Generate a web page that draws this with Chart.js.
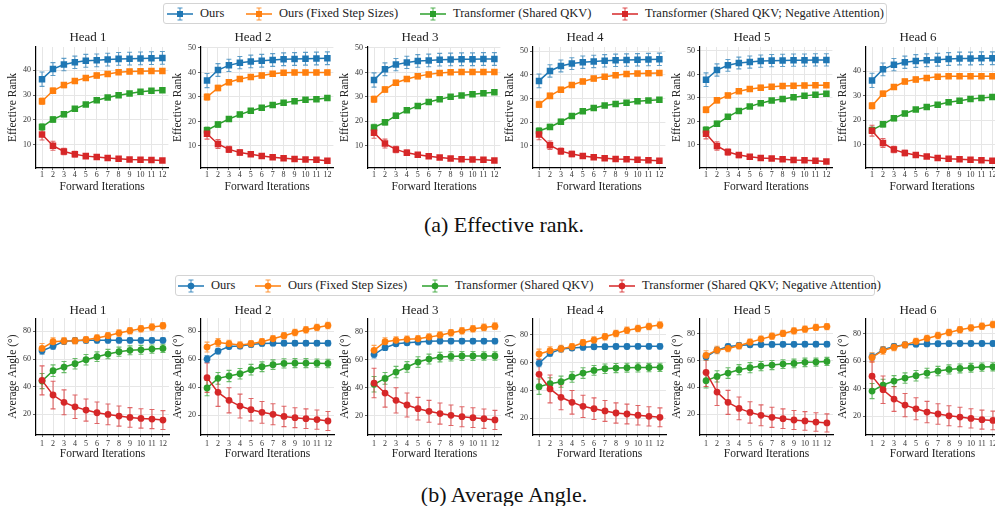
<!DOCTYPE html>
<html>
<head>
<meta charset="utf-8">
<script src="https://cdn.jsdelivr.net/npm/chart.js@4.4.1/dist/chart.umd.min.js"></script>
<style>
  html, body { margin: 0; padding: 0; background: #fff; overflow: hidden; width: 995px; height: 506px; position: relative; font-family: "Liberation Serif", serif; }
  canvas.panel { position: absolute; }
  .legend { position: absolute; border: 1px solid #d4d4d4; border-radius: 3px; box-sizing: border-box; background: #fff; }
  .item { position: absolute; top: 0; height: 100%; display: flex; align-items: center; font-size: 12.5px; color: #222; white-space: nowrap; }
  .item svg { margin-right: 7px; }
  .caption { position: absolute; left: 0; width: 1008px; text-align: center; font-size: 22px; line-height: 22px; color: #111; }
</style>
</head>
<body>
<div class="legend" id="legendTop" style="left:163px;top:3px;width:724px;height:21px"></div>
<div class="legend" id="legendBottom" style="left:175px;top:275px;width:700px;height:21px"></div>
<div class="caption" style="top:214px">(a) Effective rank.</div>
<div class="caption" style="top:484px">(b) Average Angle.</div>

<script>
const iterations = [1, 2, 3, 4, 5, 6, 7, 8, 9, 10, 11, 12];
const headTitles = ["Head 1", "Head 2", "Head 3", "Head 4", "Head 5", "Head 6"];
const seriesNames = ["Ours", "Ours (Fixed Step Sizes)", "Transformer (Shared QKV)", "Transformer (Shared QKV; Negative Attention)"];
const seriesColors = ["#1f77b4", "#ff7f0e", "#2ca02c", "#d62728"];

// effective rank, one list per head
const rankOurs = [
  [36.4, 40.5, 42.3, 43.2, 43.8, 44.0, 44.3, 44.6, 44.7, 44.8, 44.9, 45.0],
  [36.7, 41.0, 42.9, 44.0, 44.5, 44.8, 45.1, 45.4, 45.5, 45.6, 45.7, 45.8],
  [36.9, 41.3, 43.2, 44.1, 44.7, 44.9, 45.2, 45.3, 45.4, 45.4, 45.5, 45.5],
  [37.4, 41.6, 43.7, 44.7, 45.3, 45.6, 45.9, 46.1, 46.2, 46.3, 46.4, 46.5],
  [37.8, 41.9, 43.9, 44.9, 45.3, 45.7, 45.9, 46.0, 46.1, 46.1, 46.2, 46.2],
  [36.3, 40.8, 42.7, 43.7, 44.2, 44.5, 44.7, 45.0, 45.2, 45.2, 45.3, 45.3],
];
const rankFixed = [
  [27.5, 31.7, 34.0, 35.7, 36.9, 37.9, 38.5, 39.2, 39.5, 39.6, 39.7, 39.7],
  [30.0, 33.7, 36.0, 37.3, 38.2, 38.8, 39.5, 39.9, 40.0, 40.0, 40.0, 40.0],
  [29.0, 33.0, 35.8, 37.3, 38.4, 39.2, 39.8, 40.1, 40.2, 40.2, 40.2, 40.2],
  [27.5, 31.1, 33.7, 35.7, 37.2, 38.4, 39.2, 39.8, 40.3, 40.5, 40.6, 40.7],
  [25.0, 29.0, 31.1, 32.9, 33.8, 34.4, 34.8, 35.1, 35.2, 35.3, 35.4, 35.4],
  [26.0, 30.9, 33.6, 35.8, 36.7, 37.3, 37.8, 38.0, 38.0, 38.0, 38.0, 38.0],
];
const rankShared = [
  [17.1, 20.1, 22.2, 24.4, 26.2, 27.9, 29.0, 29.9, 30.6, 31.3, 31.7, 31.9],
  [16.4, 18.8, 21.0, 22.8, 24.4, 25.6, 26.7, 27.6, 28.3, 28.9, 29.1, 29.6],
  [17.5, 19.6, 22.3, 24.5, 26.3, 27.9, 29.0, 30.0, 30.6, 31.1, 31.5, 31.9],
  [16.3, 18.0, 20.2, 22.6, 24.6, 26.0, 27.0, 27.7, 28.2, 28.8, 29.2, 29.5],
  [16.4, 19.0, 22.0, 24.5, 26.4, 27.8, 28.9, 29.6, 30.3, 30.9, 31.4, 31.8],
  [16.0, 18.4, 20.9, 22.8, 24.4, 25.5, 26.4, 27.4, 28.0, 28.7, 29.1, 29.5],
];
const rankNegative = [
  [14.0, 9.5, 7.2, 6.1, 5.3, 4.9, 4.5, 4.2, 3.9, 3.8, 3.7, 3.5],
  [15.0, 10.8, 8.6, 7.3, 6.6, 5.9, 5.4, 5.0, 4.7, 4.5, 4.4, 4.0],
  [15.3, 10.9, 8.5, 7.1, 6.3, 5.7, 5.2, 4.8, 4.5, 4.4, 4.3, 4.0],
  [14.8, 10.3, 7.8, 6.6, 5.8, 5.2, 4.8, 4.5, 4.4, 4.2, 4.0, 3.8],
  [14.8, 9.6, 7.0, 5.7, 5.0, 4.5, 4.2, 3.9, 3.6, 3.5, 3.3, 3.0],
  [15.8, 10.8, 8.1, 6.7, 5.9, 5.3, 4.7, 4.4, 4.2, 4.0, 3.8, 3.6],
];
const rankErrOurs = [2.9, 2.6, 2.5, 2.5, 2.6, 2.6, 2.6, 2.6, 2.6, 2.6, 2.6, 2.6];
const rankErrFixed = [1.3, 1.1, 1.0, 1.0, 1.0, 1.0, 0.9, 0.9, 0.9, 0.9, 0.9, 0.9];
const rankErrShared = [1.3, 1.1, 1.0, 0.9, 0.8, 0.8, 0.8, 0.8, 0.8, 0.8, 0.8, 0.8];
const rankErrNegative = [2.2, 1.8, 1.3, 1.1, 0.9, 0.8, 0.7, 0.7, 0.6, 0.6, 0.6, 0.6];
const rankYMin = [0.5, 1.0, 0.9, 0.7, 0.2, 0.6];
const rankYMax = [49.4, 50.4, 50.4, 51.7, 51.7, 49.9];
const rankTicks = [10, 20, 30, 40, 50];

// average angle (degrees), one list per head
const angleOurs = [
  [66.0, 69.2, 72.8, 73.3, 73.5, 73.5, 73.5, 73.5, 73.5, 73.5, 73.5, 73.5],
  [60.0, 65.7, 69.0, 69.3, 70.5, 71.2, 71.4, 71.4, 71.4, 71.4, 71.4, 71.4],
  [63.7, 68.5, 71.3, 72.0, 72.5, 73.0, 73.2, 73.2, 73.2, 73.2, 73.2, 73.2],
  [59.5, 66.7, 69.8, 70.5, 71.0, 71.4, 71.5, 71.6, 71.6, 71.7, 71.7, 71.7],
  [62.8, 67.8, 70.5, 71.2, 71.7, 71.9, 72.0, 72.1, 72.1, 72.2, 72.2, 72.2],
  [63.2, 68.3, 70.7, 71.9, 72.4, 72.6, 72.7, 72.8, 72.9, 72.9, 72.9, 72.9],
];
const angleFixed = [
  [67.7, 72.5, 73.0, 73.3, 74.0, 75.2, 76.9, 78.8, 80.5, 81.9, 83.1, 84.1],
  [68.6, 71.9, 71.0, 70.0, 71.0, 72.4, 74.5, 76.7, 79.0, 80.9, 82.6, 84.0],
  [66.6, 72.7, 73.7, 74.4, 74.8, 76.0, 77.4, 79.1, 80.5, 81.9, 82.9, 83.8],
  [66.2, 68.6, 70.0, 71.4, 74.3, 76.2, 78.6, 81.0, 83.2, 84.6, 86.0, 87.0],
  [63.8, 67.8, 69.0, 71.0, 73.7, 76.0, 78.2, 80.2, 82.2, 83.4, 84.7, 85.4],
  [62.7, 67.8, 70.2, 71.9, 74.4, 76.6, 78.7, 80.9, 82.9, 84.3, 85.5, 86.7],
];
const angleShared = [
  [44.1, 51.6, 54.2, 56.6, 59.5, 61.7, 63.6, 65.3, 66.3, 66.7, 67.2, 67.7],
  [39.3, 46.2, 47.9, 49.5, 52.4, 54.5, 56.0, 56.9, 57.1, 57.1, 57.1, 56.9],
  [42.5, 46.7, 51.2, 54.8, 58.3, 60.4, 61.8, 62.3, 62.6, 62.6, 62.6, 62.6],
  [42.7, 44.9, 46.3, 49.7, 52.5, 54.4, 55.6, 56.1, 56.4, 56.5, 56.5, 56.6],
  [44.9, 48.1, 50.6, 53.1, 54.6, 55.8, 56.6, 57.3, 57.8, 58.6, 58.8, 59.3],
  [38.2, 42.6, 45.5, 47.7, 49.4, 51.3, 52.8, 54.0, 54.7, 55.2, 55.7, 55.9],
];
const angleNegative = [
  [44.6, 34.0, 28.7, 25.5, 23.1, 21.2, 20.0, 18.8, 17.8, 17.1, 16.6, 15.9],
  [46.7, 36.2, 30.5, 26.4, 23.8, 21.9, 20.5, 19.0, 18.1, 17.4, 16.7, 15.7],
  [43.4, 36.3, 31.1, 27.8, 25.2, 23.3, 21.7, 20.5, 19.5, 18.8, 18.1, 17.2],
  [51.6, 41.1, 35.1, 31.5, 28.6, 26.9, 25.3, 23.8, 23.1, 22.2, 21.4, 20.7],
  [51.1, 36.4, 28.7, 24.2, 21.2, 19.0, 17.5, 16.5, 15.5, 14.8, 14.0, 13.3],
  [49.1, 39.2, 32.4, 28.0, 25.3, 22.9, 21.5, 20.2, 19.3, 18.3, 17.4, 16.8],
];
const angleErrOurs = [2.5, 2.0, 1.8, 1.8, 1.8, 1.8, 1.8, 1.8, 1.8, 1.8, 1.8, 1.8];
const angleErrFixed = [3.5, 2.8, 2.5, 2.3, 2.3, 2.3, 2.3, 2.3, 2.3, 2.3, 2.3, 2.3];
const angleErrShared = [5.5, 4.2, 4.0, 3.8, 3.8, 3.5, 3.4, 3.3, 3.2, 3.2, 3.0, 3.0];
const angleErrNegative = [10.5, 10.0, 9.0, 8.5, 8.0, 7.8, 7.5, 7.3, 7.1, 7.0, 6.9, 6.8];
const angleYMin = [5.1, 5.7, 6.5, 8.0, 4.3, 6.2];
const angleYMax = [89.6, 89.3, 89.5, 92.0, 91.7, 91.4];
const angleTicks = [20, 40, 60, 80];

const FONT = "'Liberation Serif', serif";
const axisLeft = [35.7, 201, 367.5, 533, 699.5, 865.5];

const rows = [
  {
    ylabel: "Effective Rank", series: [rankOurs, rankFixed, rankShared, rankNegative],
    errors: [rankErrOurs, rankErrFixed, rankErrShared, rankErrNegative],
    yMin: rankYMin, yMax: rankYMax, ticks: rankTicks,
    top: 30, plotH: 121, titlePad: { top: 0.2, bottom: 1.2 }, tickPad: 0, xTitlePad: 2.1,
    marker: "rect", radius: 4.6,
  },
  {
    ylabel: "Average Angle (°)", series: [angleOurs, angleFixed, angleShared, angleNegative],
    errors: [angleErrOurs, angleErrFixed, angleErrShared, angleErrNegative],
    yMin: angleYMin, yMax: angleYMax, ticks: angleTicks,
    top: 301, plotH: 117, titlePad: { top: 1.5, bottom: 0 }, tickPad: 2, xTitlePad: 1.8,
    marker: "circle", radius: 3.4,
  },
];

const errorBars = {
  id: "errorBars",
  beforeDatasetsDraw(chart) {
    const ctx = chart.ctx;
    const y = chart.scales.y;
    chart.data.datasets.forEach((ds, i) => {
      const meta = chart.getDatasetMeta(i);
      ctx.save();
      ctx.strokeStyle = ds.borderColor;
      ctx.globalAlpha = 0.7;
      ctx.lineWidth = 1.1;
      meta.data.forEach((pt, j) => {
        const v = ds.data[j].y, e = ds.errors[j];
        const y1 = y.getPixelForValue(v + e), y2 = y.getPixelForValue(v - e);
        ctx.beginPath();
        ctx.moveTo(pt.x, y1); ctx.lineTo(pt.x, y2);
        ctx.moveTo(pt.x - 2.5, y1); ctx.lineTo(pt.x + 2.5, y1);
        ctx.moveTo(pt.x - 2.5, y2); ctx.lineTo(pt.x + 2.5, y2);
        ctx.stroke();
      });
      ctx.restore();
    });
  },
};

function makePanel(row, h) {
  const canvas = document.createElement("canvas");
  canvas.className = "panel";
  const w = 168, hgt = 17 + row.plotH + 28;
  canvas.width = w; canvas.height = hgt;
  canvas.style.left = (axisLeft[h] - 31) + "px";
  canvas.style.top = row.top + "px";
  canvas.style.width = w + "px"; canvas.style.height = hgt + "px";
  document.body.appendChild(canvas);

  const datasets = row.series.map((s, k) => ({
    label: seriesNames[k],
    data: iterations.map((it, j) => ({ x: it, y: s[h][j] })),
    errors: row.errors[k],
    borderColor: seriesColors[k],
    backgroundColor: seriesColors[k],
    borderWidth: 1.5,
    pointStyle: row.marker,
    pointRadius: row.radius,
    pointBorderWidth: 0,
    order: 3 - k,
  }));

  const yMin = row.yMin[h], yMax = row.yMax[h];
  new Chart(canvas.getContext("2d"), {
    type: "line",
    data: { datasets },
    plugins: [errorBars],
    options: {
      responsive: false,
      animation: false,
      layout: { padding: { left: 0, right: 2, top: 0, bottom: 0 } },
      plugins: {
        legend: { display: false },
        tooltip: { enabled: false },
        title: { display: true, text: headTitles[h], color: "#222", font: { family: FONT, size: 13, weight: "normal" }, padding: row.titlePad },
      },
      scales: {
        x: {
          type: "linear", min: 0.45, max: 12.55,
          afterBuildTicks: (s) => { s.ticks = iterations.map((v) => ({ value: v })); },
          afterFit: (s) => { s.height = 28; },
          grid: { color: "#e6e6e6", lineWidth: 1, tickLength: 2, tickColor: "#666" },
          border: { color: "#000", width: 1.2 },
          ticks: { font: { family: FONT, size: 8 }, color: "#333", padding: row.tickPad, maxRotation: 0, autoSkip: false },
          title: { display: true, text: "Forward Iterations", color: "#222", font: { family: FONT, size: 11.5 }, padding: { top: 0, bottom: row.xTitlePad } },
        },
        y: {
          min: yMin, max: yMax,
          afterBuildTicks: (s) => { s.ticks = row.ticks.filter((v) => v >= yMin && v <= yMax).map((v) => ({ value: v })); },
          afterFit: (s) => { s.width = 31; },
          grid: { color: "#e6e6e6", lineWidth: 1, tickLength: 3, tickColor: "#666" },
          border: { color: "#000", width: 1.2 },
          ticks: { font: { family: FONT, size: 8 }, color: "#333", padding: 2 },
          title: { display: true, text: row.ylabel, color: "#222", font: { family: FONT, size: 11.5 }, padding: { top: 1.1, bottom: 0 } },
        },
      },
    },
  });
}

function glyph(color, marker) {
  const m = marker === "rect"
    ? `<rect x="10" y="4" width="6" height="6" fill="${color}"/>`
    : `<circle cx="13" cy="7" r="3.3" fill="${color}"/>`;
  return `<svg width="26" height="14" viewBox="0 0 26 14">
    <line x1="0" y1="7" x2="26" y2="7" stroke="${color}" stroke-width="1.5"/>
    <g stroke="${color}" stroke-opacity="0.75" stroke-width="1.1">
      <line x1="13" y1="1" x2="13" y2="13"/><line x1="10.5" y1="1" x2="15.5" y2="1"/><line x1="10.5" y1="13" x2="15.5" y2="13"/>
    </g>${m}</svg>`;
}

function buildLegend(id, boxLeft, itemLefts, marker) {
  const box = document.getElementById(id);
  seriesNames.forEach((name, k) => {
    const item = document.createElement("div");
    item.className = "item";
    item.style.left = (itemLefts[k] - boxLeft - 1) + "px";
    item.innerHTML = glyph(seriesColors[k], marker) + `<span>${name}</span>`;
    box.appendChild(item);
  });
}

rows.forEach((row) => headTitles.forEach((_, h) => makePanel(row, h)));
buildLegend("legendTop", 163, [167, 246, 420, 612], "rect");
buildLegend("legendBottom", 175, [178, 255, 422, 609], "circle");
</script>
</body>
</html>
